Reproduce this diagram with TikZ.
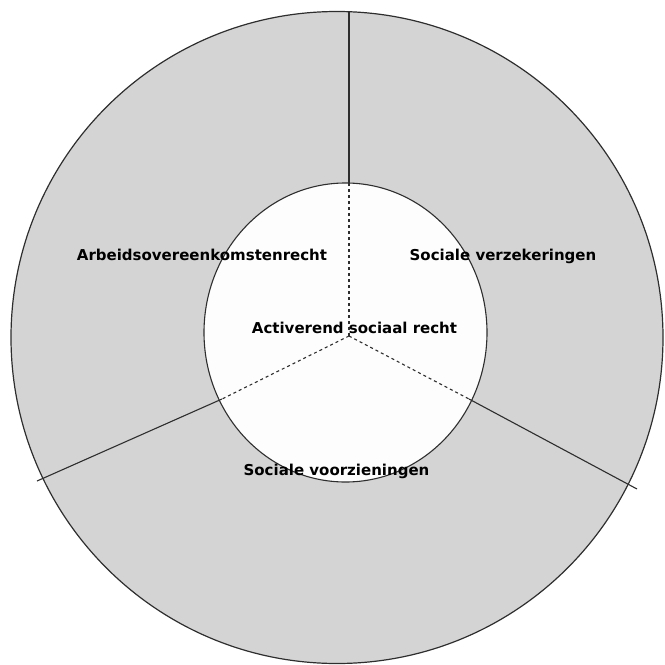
\documentclass[tikz,border=0pt]{standalone}
\usepackage{fontspec}
\setmainfont{DejaVu Sans}
\usetikzlibrary{shapes.geometric}
\definecolor{ringgray}{HTML}{D4D4D4}
\definecolor{coregray}{HTML}{FDFDFD}
\definecolor{edgegray}{HTML}{2E2E2E}
\begin{document}
\begin{tikzpicture}[x=1pt,y=-1pt,
  ring/.style={circle,draw=edgegray,line width=1.2pt,fill=ringgray,minimum size=652pt,inner sep=0pt},
  core/.style={ellipse,draw=edgegray,line width=1.1pt,fill=coregray,minimum width=283pt,minimum height=299pt,inner sep=0pt},
  divider/.style={draw=edgegray,line width=1.1pt},
  innerdiv/.style={draw=edgegray,line width=1.1pt,dash pattern=on 3pt off 3pt},
  lbl/.style={font=\fontsize{15}{18}\selectfont\bfseries,anchor=base,inner sep=0pt}]
\useasboundingbox (0,0) rectangle (665,665);
\node[ring] (outer) at (337,337.5) {};
\node[core] (inner) at (345.5,332.5) {};
\coordinate (c) at (349,336);
\coordinate (inTop) at (349,183);
\coordinate (inLeft) at (222,399);
\coordinate (inRight) at (469,399);
\coordinate (outTop) at (349,12);
\coordinate (outLeft) at (37,481);
\coordinate (outRight) at (637,489);
\draw[innerdiv] (c) -- (inTop);
\draw[innerdiv] (c) -- (inLeft);
\draw[innerdiv] (c) -- (inRight);
\draw[divider] (inTop) -- (outTop);
\draw[divider] (inLeft) -- (outLeft);
\draw[divider] (inRight) -- (outRight);
\node[lbl] (arbeid) at (202,260) {Arbeidsovereenkomstenrecht};
\node[lbl] (verzek) at (503,260) {Sociale verzekeringen};
\node[lbl] (activ) at (354.5,333) {Activerend sociaal recht};
\node[lbl] (voorz) at (336.5,475) {Sociale voorzieningen};
\end{tikzpicture}
\end{document}
